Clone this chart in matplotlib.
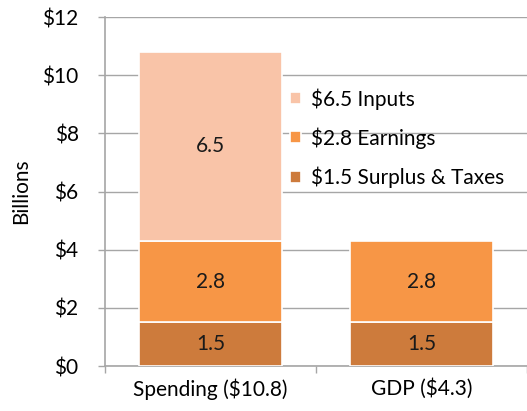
import matplotlib.pyplot as plt
import numpy as np

categories = ["Spending ($10.8)", "GDP ($4.3)"]
surplus = [1.5, 1.5]
earnings = [2.8, 2.8]
inputs = [6.5, 0.0]
legend_labels = ["$6.5 Inputs", "$2.8 Earnings", "$1.5 Surplus & Taxes"]
yticks = [0, 2, 4, 6, 8, 10, 12]

C_SURPLUS = "#cd7b3c"
C_EARN = "#f79646"
C_INPUT = "#f9c4a8"
GRID = "#a6a6a6"
FS = 15

plt.rcParams["font.family"] = ["Lato", "DejaVu Sans"]

fig = plt.figure(figsize=(5.27, 4.11), dpi=100)
ax = fig.add_axes([105 / 527, 45 / 411, 422 / 527, 349 / 411])

x = np.arange(len(categories))
w = 0.68
kw = dict(width=w, edgecolor="white", linewidth=1.2, zorder=3)
b1 = ax.bar(x, surplus, color=C_SURPLUS, **kw)
b2 = ax.bar(x, earnings, bottom=surplus, color=C_EARN, **kw)
b3 = ax.bar(x[:1], inputs[:1], bottom=[surplus[0] + earnings[0]],
            color=C_INPUT, **kw)

for i in range(len(categories)):
    ax.text(x[i], surplus[i] / 2, f"{surplus[i]:.1f}", ha="center", va="center",
            fontsize=FS, color="#1a1a1a", zorder=4)
    ax.text(x[i], surplus[i] + earnings[i] / 2, f"{earnings[i]:.1f}", ha="center",
            va="center", fontsize=FS, color="#1a1a1a", zorder=4)
    if inputs[i]:
        ax.text(x[i], surplus[i] + earnings[i] + inputs[i] / 2, f"{inputs[i]:.1f}",
                ha="center", va="center", fontsize=FS, color="#1a1a1a", zorder=4)

ax.set_xlim(-0.5, 1.5)
ax.set_ylim(0, 12)
ax.set_yticks(yticks)
ax.set_yticklabels([f"${v}" for v in yticks], fontsize=FS)
ax.set_xticks(x)
ax.set_xticklabels(categories, fontsize=FS)
ax.set_xticks([-0.5, 0.5, 1.5], minor=True)
ax.tick_params(axis="x", which="major", length=0, pad=9)
ax.tick_params(axis="x", which="minor", length=5, color=GRID, width=1)
ax.tick_params(axis="y", length=5, color=GRID, width=1, pad=14)
ax.yaxis.grid(True, color=GRID, linewidth=1, zorder=0)
ax.set_axisbelow(True)
for s in ["top", "right"]:
    ax.spines[s].set_visible(False)
for s in ["left", "bottom"]:
    ax.spines[s].set_color(GRID)
    ax.spines[s].set_linewidth(1.2)
ax.set_ylabel("Billions", fontsize=FS, labelpad=8)

ax.legend([b3, b2, b1], legend_labels, loc="upper left",
          bbox_to_anchor=(0.395, 0.85), frameon=False, fontsize=FS,
          handlelength=0.5, handleheight=0.5, handletextpad=0.5,
          labelspacing=0.85)

fig.savefig("out.png", dpi=100)
